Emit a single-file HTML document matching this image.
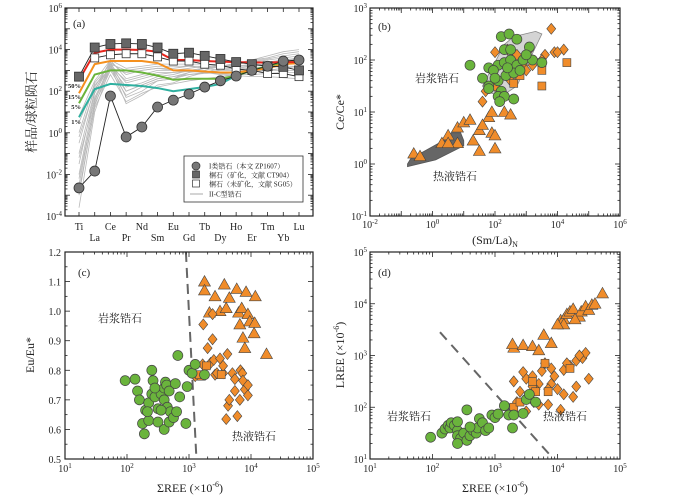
<!DOCTYPE html>
<html><head><meta charset="utf-8">
<style>
body{margin:0;background:#fff;}
svg{display:block;font-family:"Liberation Serif","Noto Serif CJK SC",serif;}
.t{fill:#222;}
.cn{font-family:"Liberation Serif","Noto Serif CJK SC","Noto Sans CJK SC",serif;}
</style></head>
<body>
<svg id="fig" width="700" height="497" viewBox="0 0 700 497"></svg>
<script>
// ===== Panel (a) data: log10 sample/chondrite =====
const elements = ['Ti','La','Ce','Pr','Nd','Sm','Eu','Gd','Tb','Dy','Ho','Er','Tm','Yb','Lu'];
const zp1607 = [-2.65,-1.84,1.77,-0.2,0.28,1.24,1.57,1.86,2.2,2.5,2.73,3.0,3.2,3.45,3.5];
const ct904 = [2.7,4.1,4.27,4.3,4.27,4.1,3.8,3.85,3.7,3.55,3.4,3.3,3.2,3.17,3.0];
const sg05 = [null,3.6,3.75,3.8,3.8,3.65,3.45,3.45,3.3,3.25,3.07,3.0,2.85,2.85,2.7];
const line50 = [2.54,3.85,4.0,4.0,3.98,3.9,3.5,3.5,3.45,3.42,3.4,3.38,3.38,3.4,3.4];
const line15 = [1.9,3.3,3.45,3.45,3.45,3.35,3.0,3.0,2.95,2.9,2.9,3.0,3.1,3.3,3.35];
const line5 = [1.42,2.8,3.0,3.0,2.9,2.75,2.55,2.6,2.6,2.6,2.75,3.0,3.2,3.4,3.45];
const line1 = [0.75,2.1,2.35,2.3,2.25,2.15,2.0,2.1,2.2,2.35,2.75,3.0,3.2,3.4,3.45];
const grayLines = [
 [-3.6,1.0,3.2,1.4,1.8,2.3,2.4,2.7,2.9,3.1,3.3,3.5,3.7,3.9,4.0],
 [-3.0,1.3,3.3,1.7,2.0,2.5,2.6,2.9,3.0,3.2,3.35,3.5,3.6,3.8,3.9],
 [-2.5,1.5,3.4,2.0,2.3,2.6,2.7,2.9,3.1,3.2,3.3,3.45,3.55,3.7,3.8],
 [-2.0,1.7,3.2,2.2,2.4,2.7,2.8,3.0,3.1,3.2,3.3,3.4,3.5,3.6,3.7],
 [-1.5,1.9,3.3,2.4,2.6,2.8,2.9,3.0,3.1,3.15,3.2,3.3,3.4,3.5,3.55],
 [-1.0,2.0,3.5,2.6,2.8,3.0,3.0,3.1,3.2,3.2,3.2,3.25,3.3,3.4,3.4],
 [-0.5,2.2,3.4,2.8,3.0,3.1,3.1,3.2,3.2,3.1,3.1,3.1,3.2,3.2,3.2],
 [0.0,2.4,3.3,3.0,3.1,3.2,3.2,3.2,3.1,3.0,3.0,3.0,3.0,3.0,3.0],
 [0.5,2.3,3.1,2.9,3.0,3.1,3.0,3.0,2.9,2.8,2.75,2.7,2.7,2.65,2.6],
 [-2.2,1.4,3.0,1.8,2.2,2.5,2.6,2.8,2.9,3.0,3.1,3.2,3.35,3.5,3.6],
 [-1.2,1.6,3.1,2.0,2.3,2.6,2.7,2.8,2.85,2.9,2.9,2.95,3.0,3.1,3.2],
 [-0.2,2.1,3.2,2.5,2.7,2.9,2.9,2.95,2.9,2.85,2.8,2.8,2.85,2.9,2.9],
 [-2.8,1.2,2.8,1.5,1.9,2.2,2.35,2.5,2.6,2.7,2.8,2.9,3.0,3.1,3.2],
 [0.8,2.5,3.5,3.1,3.2,3.3,3.3,3.3,3.3,3.2,3.2,3.2,3.25,3.3,3.3]
];
const mixLabels = ['50%','15%','5%','1%'];
// ===== Panel (b) data: [log10 (Sm/La)N, log10 Ce/Ce*] =====
const bGreen = [[1.2,1.9],[1.8,1.85],[2.2,2.45],[2.45,2.5],[2.7,2.4],[2.3,2.2],[2.5,2.2],[3.1,2.25],[2.1,1.9],[1.95,1.8],[2.3,1.95],[2.5,2.0],[2.7,1.9],[2.9,2.0],[3.2,2.0],[2.1,1.6],[2.35,1.7],[2.6,1.75],[2.8,1.8],[1.8,1.5],[2.0,1.65],[1.8,1.45],[2.2,1.4],[2.1,1.3],[2.3,1.3],[2.15,1.2],[2.6,1.25],[3.5,1.95],[3.0,2.1],[2.4,1.85],[1.6,1.65]];
const bDiamond = [[3.8,2.6],[2.0,2.15],[2.4,2.2],[2.7,2.1],[3.1,2.2],[3.2,1.9],[3.6,2.1],[3.9,2.15],[4.2,2.2],[4.0,2.15],[1.6,1.2],[2.0,1.5],[2.3,1.3],[2.5,1.6],[2.7,1.7],[2.9,1.9],[3.5,2.0],[3.0,1.8],[1.7,1.4],[2.1,1.3]];
const bSquare = [[3.5,1.95],[3.5,1.8],[3.5,1.5],[4.3,1.95],[2.6,1.55],[2.8,1.7]];
const bTriangle = [[-0.6,0.2],[-0.4,0.15],[0.5,0.55],[0.8,0.7],[1.0,0.8],[1.2,0.85],[1.8,0.9],[1.9,1.0],[2.3,1.0],[2.5,0.95],[0.3,0.4],[0.8,0.4],[1.3,0.45],[1.5,0.65],[1.6,0.75],[1.9,0.6],[2.0,0.55],[2.0,0.3],[1.5,0.25],[0.5,0.4]];
const bMagField = [[1.7,1.4],[1.6,1.5],[2.3,2.3],[2.6,2.45],[3.3,2.55],[3.5,2.5],[3.1,2.0],[2.7,1.5],[2.2,1.3]];
const bHydField = [[-0.8,0.0],[-0.7,0.1],[0.5,0.5],[0.6,0.6],[0.9,0.6],[1.0,0.45],[1.0,0.35],[0.1,0.08],[-0.8,-0.05]];
// ===== Panel (c) data: [log10 ΣREE, Eu/Eu*] =====
const cGreen = [[1.97,0.765],[2.13,0.77],[2.17,0.73],[2.4,0.8],[2.42,0.765],[2.2,0.7],[2.3,0.665],[2.35,0.69],[2.25,0.62],[2.35,0.63],[2.28,0.585],[2.4,0.72],[2.45,0.71],[2.5,0.67],[2.55,0.72],[2.6,0.74],[2.62,0.76],[2.64,0.75],[2.68,0.73],[2.6,0.7],[2.65,0.675],[2.5,0.625],[2.6,0.6],[2.68,0.625],[2.7,0.66],[2.75,0.64],[2.8,0.66],[2.55,0.665],[2.78,0.755],[2.85,0.71],[2.82,0.85],[2.95,0.62],[2.97,0.745],[3.0,0.8],[3.05,0.79],[3.1,0.82],[3.25,0.785],[2.33,0.66],[2.45,0.74]];
const cTriangle = [[3.25,1.1],[3.25,1.07],[3.42,1.05],[3.57,1.09],[3.5,1.0],[3.6,1.01],[3.65,1.045],[3.77,1.075],[3.8,0.995],[3.82,0.955],[3.85,1.01],[3.87,0.91],[3.9,0.875],[3.92,1.065],[3.95,0.99],[3.98,0.965],[4.05,0.925],[4.06,0.96],[4.07,1.05],[4.25,0.855],[3.33,0.995]];
const cDiamond = [[3.23,0.955],[3.3,0.875],[3.38,0.905],[3.38,0.99],[3.35,0.825],[3.4,0.835],[3.42,0.785],[3.5,0.84],[3.55,0.79],[3.55,0.815],[3.62,0.855],[3.6,0.635],[3.63,0.68],[3.65,0.7],[3.7,0.79],[3.74,0.77],[3.74,0.73],[3.78,0.645],[3.82,0.7],[3.83,0.8],[3.86,0.79],[3.87,0.765],[3.9,0.735],[3.95,0.715],[3.95,0.75],[3.1,0.78],[3.22,0.82],[3.45,0.79]];
const cSquare = [[3.2,0.78],[3.28,0.815],[3.52,0.785],[3.17,0.785]];
const cDivider = [[2.95,1.2],[3.12,0.5]];
// ===== Panel (d) data: [log10 ΣREE, log10 LREE] =====
const dGreen = [[1.97,1.42],[2.15,1.5],[2.2,1.58],[2.25,1.65],[2.28,1.6],[2.3,1.7],[2.35,1.65],[2.4,1.55],[2.4,1.45],[2.45,1.4],[2.5,1.5],[2.55,1.36],[2.6,1.45],[2.65,1.55],[2.7,1.5],[2.72,1.6],[2.75,1.78],[2.8,1.7],[2.85,1.55],[2.9,1.6],[2.95,1.85],[3.0,1.8],[3.05,1.87],[3.15,2.03],[3.22,1.85],[3.3,1.85],[3.28,1.6],[3.45,1.88],[3.5,2.15],[3.55,2.25],[3.65,2.1],[2.4,1.72],[2.6,1.62],[2.4,1.3],[2.55,1.95]];
const dDiamond = [[4.3,2.4],[4.5,2.55],[4.25,2.2],[4.1,2.25],[4.0,2.35],[3.9,2.45],[3.95,2.6],[4.1,2.72],[4.2,2.8],[4.3,2.9],[4.4,2.95],[4.45,3.05],[4.35,3.0],[4.15,2.85],[3.8,2.85],[3.75,2.7],[3.85,2.35],[3.7,2.45],[3.65,2.35],[3.6,2.6],[3.5,2.55],[3.45,2.68],[3.4,2.3],[3.55,2.2],[3.62,2.1],[3.7,2.05],[3.85,2.05],[4.05,1.95],[3.5,1.92],[3.6,2.4],[3.9,2.75],[3.3,2.5],[3.35,2.1]];
const dSquare = [[3.3,2.0],[3.4,2.1],[3.65,2.3],[3.85,2.3],[4.2,2.75],[3.6,2.5],[3.8,2.85]];
const dTriangle = [[3.3,3.15],[3.28,3.22],[3.45,3.2],[3.6,3.18],[3.7,3.1],[3.78,3.4],[3.9,3.24],[4.05,3.68],[4.1,3.7],[4.15,3.8],[4.2,3.85],[4.25,3.9],[4.35,3.75],[4.38,3.85],[4.45,3.95],[4.5,3.88],[4.55,3.98],[4.6,4.0],[4.28,3.7],[4.72,4.2],[4.1,3.6],[4.0,3.6]];
const dDivider = [[2.12,3.45],[3.9,1.05]];

const NS='http://www.w3.org/2000/svg';
const svg=document.getElementById('fig');
function mk(tag,attrs,parent){const e=document.createElementNS(NS,tag);for(const k in attrs)e.setAttribute(k,attrs[k]);(parent||svg).appendChild(e);return e;}
function lin(d0,d1,r0,r1){return v=>r0+(v-d0)/(d1-d0)*(r1-r0);}

const ORANGE='#f08c2a', GREEN='#6ab43c', STROKE='#444';
function marker(g,type,x,y,name){
  let e;
  if(type==='circle'){e=mk('circle',{cx:x,cy:y,r:5,fill:GREEN,stroke:STROKE,'stroke-width':0.7},g);}
  else if(type==='diamond'){e=mk('polygon',{points:`${x},${y-5.5} ${x+4.5},${y} ${x},${y+5.5} ${x-4.5},${y}`,fill:ORANGE,stroke:STROKE,'stroke-width':0.6},g);}
  else if(type==='square'){e=mk('rect',{x:x-4,y:y-4,width:8,height:8,fill:ORANGE,stroke:STROKE,'stroke-width':0.6},g);}
  else {e=mk('polygon',{points:`${x},${y-6} ${x+6},${y+4.5} ${x-6},${y+4.5}`,fill:ORANGE,stroke:STROKE,'stroke-width':0.6},g);}
  
  
}
function frame(x0,y0,x1,y1,name){
  const r=mk('rect',{x:x0,y:y0,width:x1-x0,height:y1-y0,fill:'none',stroke:'#222','stroke-width':1.2});
  
  
}
function tick(x1,y1,x2,y2){mk('line',{x1:x1,y1:y1,x2:x2,y2:y2,stroke:'#222','stroke-width':0.8});}
function supLabel(x,y,base,exp,anchor,name){
  const t=mk('text',{x:x,y:y,class:'t','text-anchor':anchor||'middle',style:'font-size:10px'});
  
  
  t.appendChild(document.createTextNode(base));
  const s=mk('tspan',{dy:-4,style:'font-size:7px'},t);s.textContent=exp;
}
function logXTicks(X,lo,hi,y0,y1,step,labelY,nameP){
  for(let d=lo;d<=hi;d++){
    const x=X(d);tick(x,y1,x,y1-5);tick(x,y0,x,y0+5);
    if((d-lo)%step===0) supLabel(x,labelY,'10',String(d),'middle',nameP+'-tick-'+d);
    if(d<hi) for(let m=2;m<10;m++){const xm=X(d+Math.log10(m));tick(xm,y1,xm,y1-2.5);tick(xm,y0,xm,y0+2.5);}
  }
}
function logYTicks(Y,lo,hi,x0,x1,step,nameP){
  for(let d=lo;d<=hi;d++){
    const y=Y(d);tick(x0,y,x0+5,y);tick(x1,y,x1-5,y);
    if((d-lo)%step===0) supLabel(x0-3,y+4,'10',String(d),'end',nameP+'-tick-'+d);
    if(d<hi) for(let m=2;m<10;m++){const ym=Y(d+Math.log10(m));tick(x0,ym,x0+2.5,ym);tick(x1,ym,x1-2.5,ym);}
  }
}
function label(x,y,s,size,name,extra){
  const a=Object.assign({x:x,y:y,class:'t'},extra||{});
  a.style='font-size:'+size+'px;'+(a.style||'');
  const t=mk('text',a);
  t.textContent=s;
  
  
  return t;
}

// ================= Panel (a) =================
(function(){
  const x0=65,x1=313,y0=8,y1=216;
  const X=i=>79+i*(299-79)/(elements.length-1);
  const Y=lin(-4,6,y1,y0);
  const g=mk('g',{});
  
  
  function path(arr,color,w,name){
    let d='';arr.forEach((v,i)=>{if(v===null)return;d+=(d?'L':'M')+X(i)+','+Y(v);});
    const p=mk('path',{d:d,fill:'none',stroke:color,'stroke-width':w},g);
    
    
  }
  grayLines.forEach((a,k)=>path(a,'#b8b8b8',0.8,'ii-c-zircon-line-'+k));
  path(line1,'#2fb0a0',2,'mixing-line-1pct');
  path(line5,'#6ab43c',2,'mixing-line-5pct');
  path(line15,'#f5901e',2,'mixing-line-15pct');
  path(line50,'#e8251c',2,'mixing-line-50pct');
  path(sg05,'#222',0.9,'sg05-line');
  path(ct904,'#222',0.9,'ct904-line');
  path(zp1607,'#222',0.9,'zp1607-line');
  sg05.forEach((v,i)=>{if(v===null)return;const r=mk('rect',{x:X(i)-4,y:Y(v)-4,width:8,height:8,fill:'#fff',stroke:'#333','stroke-width':0.8},g);
    
    });
  ct904.forEach((v,i)=>{const r=mk('rect',{x:X(i)-4.5,y:Y(v)-4.5,width:9,height:9,fill:'#666',stroke:'#333','stroke-width':0.8},g);
    
    });
  zp1607.forEach((v,i)=>{const c=mk('circle',{cx:X(i),cy:Y(v),r:5,fill:'#777',stroke:'#333','stroke-width':0.8},g);
    
    });
  frame(x0,y0,x1,y1,'panel-a-frame');
  logYTicks(Y,-4,6,x0,x1,2,'a-y');
  elements.forEach((e,i)=>{const x=X(i);tick(x,y1,x,y1-4);tick(x,y0,x,y0+4);
    label(x,i%2===0?230:241,e,10,'x-tick-'+e,{'text-anchor':'middle'});});
  label(73,27,'(a)',11,'panel-a-label');
  const labelYs=[88,99,109,124];
  mixLabels.forEach((s,k)=>label(81,labelYs[k],s,6.5,'mixing-label-'+s,{'text-anchor':'end','font-weight':'bold','fill':'#333'}));
  label(36,112,'样品/球粒陨石',13,'panel-a-y-title',{'text-anchor':'middle',class:'t cn',transform:'rotate(-90 36 112)','fill':'#333'});
  const lg=mk('rect',{x:184,y:156,width:119,height:46,fill:'#fff',stroke:'#333','stroke-width':0.8});
  
  
  mk('circle',{cx:196,cy:166,r:4,fill:'#777',stroke:'#333','stroke-width':0.7});
  mk('rect',{x:192.5,y:171,width:7,height:7,fill:'#666',stroke:'#333','stroke-width':0.7});
  mk('rect',{x:192.5,y:180,width:7,height:7,fill:'#fff',stroke:'#333','stroke-width':0.7});
  mk('line',{x1:190,y1:194,x2:203,y2:194,stroke:'#aaa','stroke-width':1});
  label(209,168.5,'I类锆石（本文 ZP1607）',7,'legend-entry-zp1607',{class:'t cn'});
  label(209,177.5,'榍石（矿化，文献 CT904）',7,'legend-entry-ct904',{class:'t cn'});
  label(209,186.5,'榍石（未矿化，文献 SG05）',7,'legend-entry-sg05',{class:'t cn'});
  label(209,196.5,'II-C型锆石',7,'legend-entry-ii-c',{class:'t cn'});
})();

// ================= Panel (b) =================
(function(){
  const x0=370,x1=620,y0=8,y1=216;
  const X=lin(-2,6,x0,x1), Y=lin(-1,3,y1,y0);
  const g=mk('g',{});
  
  
  const mp=mk('polygon',{points:bMagField.map(p=>X(p[0])+','+Y(p[1])).join(' '),fill:'#d4d4d4',stroke:'#888','stroke-width':0.8},g);
  
  
  const hp=mk('polygon',{points:bHydField.map(p=>X(p[0])+','+Y(p[1])).join(' '),fill:'#666',stroke:'#555','stroke-width':0.8},g);
  
  
  bTriangle.forEach(p=>marker(g,'tri',X(p[0]),Y(p[1]),'triangle-point'));
  bDiamond.forEach(p=>marker(g,'diamond',X(p[0]),Y(p[1]),'diamond-point'));
  bSquare.forEach(p=>marker(g,'square',X(p[0]),Y(p[1]),'square-point'));
  bGreen.forEach(p=>marker(g,'circle',X(p[0]),Y(p[1]),'magmatic-zircon-point'));
  frame(x0,y0,x1,y1,'panel-b-frame');
  logXTicks(X,-2,6,y0,y1,2,228,'b-x');
  logYTicks(Y,-1,3,x0,x1,1,'b-y');
  label(378,30,'(b)',11,'panel-b-label');
  label(415,82,'岩浆锆石',11,'magmatic-label',{class:'t cn','fill':'#555'});
  label(433,180,'热液锆石',11,'hydrothermal-label',{class:'t cn','fill':'#555'});
  const xt=label(495,244,'(Sm/La)',12,'panel-b-x-title',{'text-anchor':'middle'});
  const s=mk('tspan',{dy:3,style:'font-size:8px'},xt);s.textContent='N';
  label(344,112,'Ce/Ce*',12,'panel-b-y-title',{'text-anchor':'middle',transform:'rotate(-90 344 112)'});
})();

// ================= Panel (c) =================
(function(){
  const x0=65,x1=313,y0=252,y1=459;
  const X=lin(1,5,x0,x1), Y=lin(0.5,1.2,y1,y0);
  const g=mk('g',{});
  
  
  const dl=mk('line',{x1:X(cDivider[0][0]),y1:Y(cDivider[0][1]),x2:X(cDivider[1][0]),y2:Y(cDivider[1][1]),stroke:'#666','stroke-width':2,'stroke-dasharray':'10,6'},g);
  
  
  cTriangle.forEach(p=>marker(g,'tri',X(p[0]),Y(p[1]),'triangle-point'));
  cDiamond.forEach(p=>marker(g,'diamond',X(p[0]),Y(p[1]),'diamond-point'));
  cSquare.forEach(p=>marker(g,'square',X(p[0]),Y(p[1]),'square-point'));
  cGreen.forEach(p=>marker(g,'circle',X(p[0]),Y(p[1]),'magmatic-zircon-point'));
  frame(x0,y0,x1,y1,'panel-c-frame');
  logXTicks(X,1,5,y0,y1,1,472,'c-x');
  for(let v=0.5;v<=1.2001;v+=0.1){const y=Y(v);tick(x0,y,x0+5,y);tick(x1,y,x1-5,y);
    label(x0-4,y+4,v.toFixed(1),10,'c-y-tick-'+v.toFixed(1),{'text-anchor':'end'});
    if(v<1.15){const ym=Y(v+0.05);tick(x0,ym,x0+2.5,ym);tick(x1,ym,x1-2.5,ym);}}
  label(78,276,'(c)',11,'panel-c-label');
  label(98,322,'岩浆锆石',11,'magmatic-label-c',{class:'t cn','fill':'#555'});
  label(232,440,'热液锆石',11,'hydrothermal-label-c',{class:'t cn','fill':'#555'});
  const xt=label(190,492,'ΣREE (×10',12,'panel-c-x-title',{'text-anchor':'middle'});
  const s=mk('tspan',{dy:-5,style:'font-size:8px'},xt);s.textContent='-6';
  const s2=mk('tspan',{dy:5},xt);s2.textContent=')';
  label(34,355,'Eu/Eu*',12,'panel-c-y-title',{'text-anchor':'middle',transform:'rotate(-90 34 355)'});
})();

// ================= Panel (d) =================
(function(){
  const x0=370,x1=620,y0=252,y1=459;
  const X=lin(1,5,x0,x1), Y=lin(1,5,y1,y0);
  const g=mk('g',{});
  
  
  const dl=mk('line',{x1:X(dDivider[0][0]),y1:Y(dDivider[0][1]),x2:X(dDivider[1][0]),y2:Y(dDivider[1][1]),stroke:'#666','stroke-width':2,'stroke-dasharray':'10,7'},g);
  
  
  dTriangle.forEach(p=>marker(g,'tri',X(p[0]),Y(p[1]),'triangle-point'));
  dDiamond.forEach(p=>marker(g,'diamond',X(p[0]),Y(p[1]),'diamond-point'));
  dSquare.forEach(p=>marker(g,'square',X(p[0]),Y(p[1]),'square-point'));
  dGreen.forEach(p=>marker(g,'circle',X(p[0]),Y(p[1]),'magmatic-zircon-point'));
  frame(x0,y0,x1,y1,'panel-d-frame');
  logXTicks(X,1,5,y0,y1,1,472,'d-x');
  logYTicks(Y,1,5,x0,x1,1,'d-y');
  label(378,276,'(d)',11,'panel-d-label');
  label(387,420,'岩浆锆石',11,'magmatic-label-d',{class:'t cn','fill':'#555'});
  label(543,420,'热液锆石',11,'hydrothermal-label-d',{class:'t cn','fill':'#555'});
  const xt=label(495,492,'ΣREE (×10',12,'panel-d-x-title',{'text-anchor':'middle'});
  const s=mk('tspan',{dy:-5,style:'font-size:8px'},xt);s.textContent='-6';
  const s2=mk('tspan',{dy:5},xt);s2.textContent=')';
  const yt=label(344,355,'LREE (×10',12,'panel-d-y-title',{'text-anchor':'middle',transform:'rotate(-90 344 355)'});
  const t1=mk('tspan',{dy:-5,style:'font-size:8px'},yt);t1.textContent='-6';
  const t2=mk('tspan',{dy:5},yt);t2.textContent=')';
})();
</script>
</body></html>
